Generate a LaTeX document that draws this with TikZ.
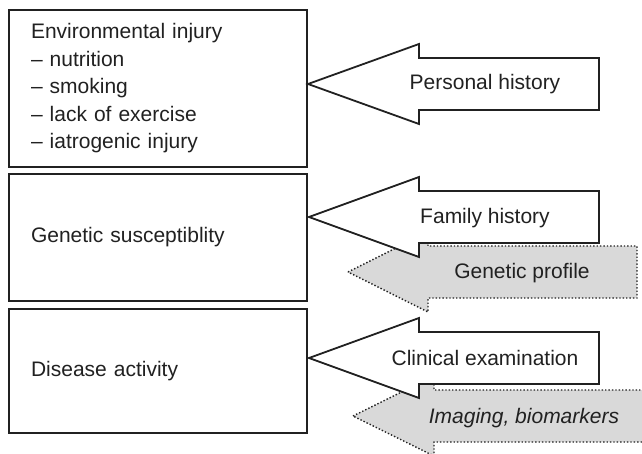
\documentclass[tikz,border=0pt]{standalone}
\usepackage{fontspec}
\setmainfont{Liberation Sans}
\usepackage{tikz}

\definecolor{ink}{gray}{0.13}
\definecolor{shade}{gray}{0.85}

% block arrow pointing left: style, tip, head length, shaft length
\newcommand{\blockarrow}[4]{%
  \draw[#1] (#2) -- ++(#3,40) -- ++(0,-14) -- ++(#4,0) -- ++(0,-52)
    -- ++(-#4,0) -- ++(0,-14) -- cycle;}

\tikzset{
  box/.style = {draw = ink, line width = 1.2pt, text width = 254pt, inner xsep = 22pt,
    inner ysep = 0pt, align = left},
  solidarrow/.style = {draw = ink, line width = 1.8pt, fill = white, line join = miter},
  dotarrow/.style = {draw = ink, line width = 1.4pt, dotted, fill = shade},
  lbl/.style = {inner sep = 0pt}
}

\begin{document}
\begin{tikzpicture}[x = 1pt, y = 1pt, font = \fontsize{21}{27.5}\selectfont, text = ink]
\clip (0,0) rectangle (642,453);
\fill[white] (0,0) rectangle (642,453);

% the three boxes
\node[box, minimum height = 157pt] (env) at (158,364.5)
  {Environmental injury\\ -- nutrition\\ -- smoking\\ -- lack of exercise\\ -- iatrogenic injury};
\node[box, minimum height = 127pt] (gen) at (158,215.5) {Genetic susceptiblity};
\node[box, minimum height = 124pt] (dis) at (158,82) {Disease activity};

% arrow tips
\coordinate (personaltip) at (308,369);
\coordinate (familytip) at (309,236);
\coordinate (profiletip) at (348,181);
\coordinate (clinicaltip) at (309,95);
\coordinate (imagingtip) at (353,37);

% grey arrows go underneath
\blockarrow{dotarrow}{profiletip}{80}{209}
\blockarrow{dotarrow}{imagingtip}{81}{240}
\blockarrow{solidarrow}{personaltip}{111}{180}
\blockarrow{solidarrow}{familytip}{110}{180}
\blockarrow{solidarrow}{clinicaltip}{110}{180}

\node[lbl] (personal) at (485,369) {Personal history};
\node[lbl] (family) at (485,235) {Family history};
\node[lbl] (profile) at (522,180) {Genetic profile};
\node[lbl] (clinical) at (485,95) {Clinical examination};
\node[lbl] (imaging) at (524,35) {\itshape Imaging, biomarkers};

\end{tikzpicture}
\end{document}
